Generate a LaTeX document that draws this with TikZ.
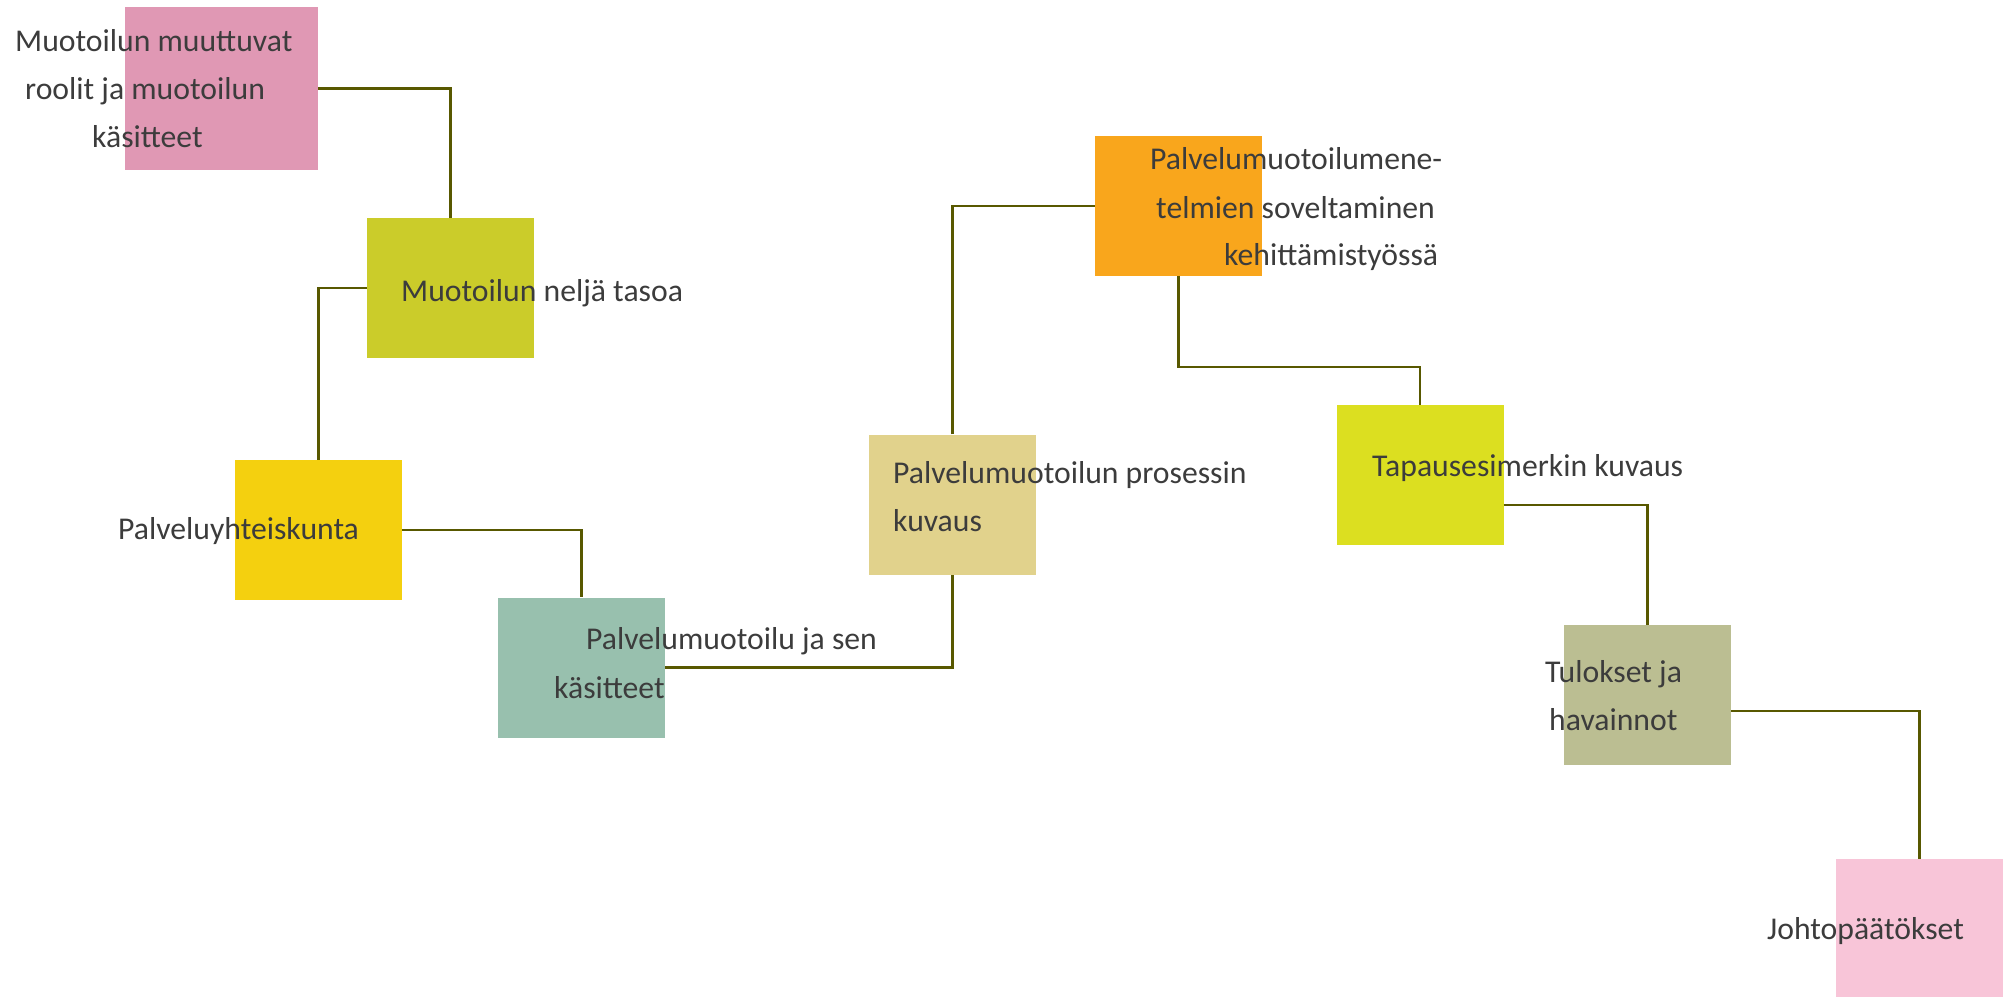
\documentclass[tikz,border=0pt]{standalone}
\usepackage{fontspec}
\setmainfont{Carlito}
\definecolor{cA}{HTML}{E098B4}
\definecolor{cB}{HTML}{CBCC2A}
\definecolor{cC}{HTML}{F4D00F}
\definecolor{cD}{HTML}{98C0AE}
\definecolor{cE}{HTML}{E1D28C}
\definecolor{cF}{HTML}{F9A61C}
\definecolor{cG}{HTML}{DCDF20}
\definecolor{cH}{HTML}{BBBE92}
\definecolor{cI}{HTML}{F8C5D8}
\definecolor{linkcol}{HTML}{585800}
\definecolor{labelcol}{HTML}{3C3C3C}
\begin{document}
\begin{tikzpicture}[x=1pt,y=-1pt,
  box/.style={rectangle, draw=none, inner sep=0pt, minimum width=167pt, minimum height=140pt},
  link/.style={draw=linkcol, line width=2.6pt},
  lbl/.style={anchor=base west, inner sep=0pt, text=labelcol, font=\fontsize{31.7}{38}\selectfont}]
\useasboundingbox (0,0) rectangle (2010,997);

% coloured blocks
\node[box, fill=cA, minimum width=193pt, minimum height=163pt] (A) at (221.5,88.5) {};
\node[box, fill=cB] (B) at (450.5,288) {};
\node[box, fill=cC] (C) at (318.5,530) {};
\node[box, fill=cD] (D) at (581.5,667.5) {};
\node[box, fill=cE] (E) at (952.5,504.5) {};
\node[box, fill=cF] (F) at (1178.5,206) {};
\node[box, fill=cG] (G) at (1420,475) {};
\node[box, fill=cH] (H) at (1647.5,695) {};
\node[box, fill=cI, minimum height=138pt] (I) at (1919.5,928) {};

% elbow connectors
\draw[link] (A.east) -| (B.north);
\draw[link] (B.west) -| (C.north);
\draw[link] (C.east) -| (D.north);
\draw[link] (D.east) -| (E.south);
\draw[link] (E.north) |- (F.west);
\draw[link] (F.south) |- ([yshift=38pt]G.north) -- (G.north);
\draw[link] ([yshift=-30pt]G.east) -| (H.north);
\draw[link] ([yshift=-16pt]H.east) -| (I.north);

% labels
\node[lbl] (tA1) at (15,51) {Muotoilun muuttuvat};
\node[lbl] (tA2) at (25,99) {roolit ja muotoilun};
\node[lbl] (tA3) at (92,147) {käsitteet};
\node[lbl] (tB) at (401,301) {Muotoilun neljä tasoa};
\node[lbl] (tC) at (118,539) {Palveluyhteiskunta};
\node[lbl] (tD1) at (586,649) {Palvelumuotoilu ja sen};
\node[lbl] (tD2) at (554,698) {käsitteet};
\node[lbl] (tE1) at (893,483) {Palvelumuotoilun prosessin};
\node[lbl] (tE2) at (893,531) {kuvaus};
\node[lbl] (tF1) at (1150,169) {Palvelumuotoilumene-};
\node[lbl] (tF2) at (1156,218) {telmien soveltaminen};
\node[lbl] (tF3) at (1224,265) {kehittämistyössä};
\node[lbl] (tG) at (1372,476) {Tapausesimerkin kuvaus};
\node[lbl] (tH1) at (1545,682) {Tulokset ja};
\node[lbl] (tH2) at (1549,730) {havainnot};
\node[lbl] (tI) at (1767,939) {Johtopäätökset};
\end{tikzpicture}
\end{document}
